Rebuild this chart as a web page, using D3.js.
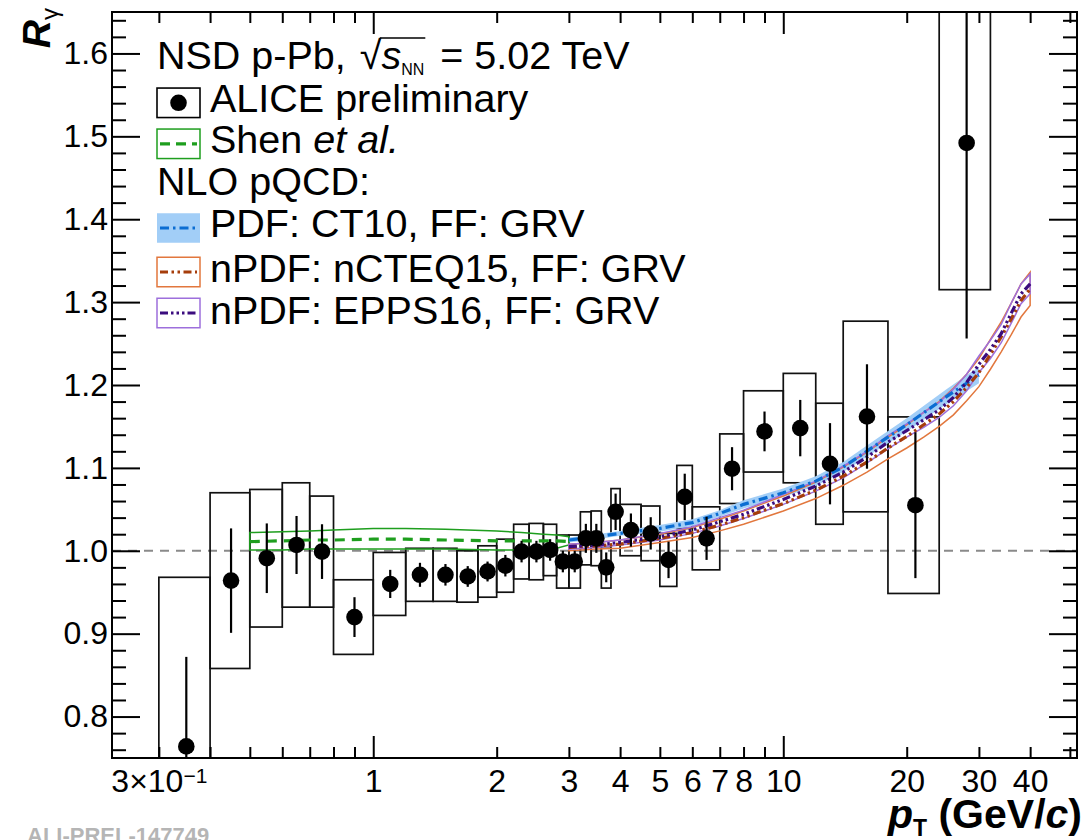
<!DOCTYPE html>
<html>
<head>
<meta charset="utf-8">
<script src="https://cdn.jsdelivr.net/npm/d3@7"></script>
<style>
  html, body { margin: 0; padding: 0; background: #fff; }
  svg { display: block; }
  text { font-family: "Liberation Sans", Arial, Helvetica, sans-serif; }
</style>
</head>
<body>
<svg id="chart" width="1092" height="840"></svg>
<script>
// ---- Measured R_gamma, NSD p-Pb at 5.02 TeV ----
const binLow   = [0.3, 0.4, 0.5, 0.6, 0.7, 0.8, 1.0, 1.2, 1.4, 1.6, 1.8, 2.0, 2.2, 2.4, 2.6, 2.8, 3.0, 3.2, 3.4, 3.6, 3.8, 4.0, 4.5, 5.0, 5.5, 6, 7, 8, 10, 12, 14, 18, 24];
const binHigh  = [0.4, 0.5, 0.6, 0.7, 0.8, 1.0, 1.2, 1.4, 1.6, 1.8, 2.0, 2.2, 2.4, 2.6, 2.8, 3.0, 3.2, 3.4, 3.6, 3.8, 4.0, 4.5, 5.0, 5.5, 6.0, 7, 8, 10, 12, 14, 18, 24, 32];
const ptCenter = [0.35, 0.45, 0.55, 0.65, 0.75, 0.9, 1.1, 1.3, 1.5, 1.7, 1.9, 2.1, 2.3, 2.5, 2.7, 2.9, 3.1, 3.3, 3.5, 3.7, 3.9, 4.25, 4.75, 5.25, 5.75, 6.5, 7.5, 9, 11, 13, 16, 21, 28];
const rGamma   = [0.764, 0.964, 0.991, 1.007, 0.999, 0.920, 0.960, 0.971, 0.971, 0.969, 0.975, 0.982, 0.999, 0.999, 1.001, 0.987, 0.987, 1.015, 1.015, 0.980, 1.047, 1.025, 1.021, 0.989, 1.065, 1.015, 1.099, 1.144, 1.148, 1.105, 1.162, 1.055, 1.492];
const statErr  = [0.108, 0.063, 0.042, 0.035, 0.033, 0.024, 0.017, 0.0145, 0.013, 0.0125, 0.012, 0.013, 0.013, 0.013, 0.013, 0.013, 0.013, 0.0175, 0.0175, 0.018, 0.022, 0.020, 0.0195, 0.022, 0.028, 0.026, 0.026, 0.024, 0.034, 0.049, 0.063, 0.088, 0.236];
const sysErr   = [0.204, 0.106, 0.083, 0.075, 0.067, 0.045, 0.038, 0.032, 0.032, 0.031, 0.031, 0.032, 0.033, 0.034, 0.031, 0.032, 0.032, 0.032, 0.033, 0.025, 0.028, 0.031, 0.033, 0.032, 0.038, 0.038, 0.042, 0.049, 0.066, 0.073, 0.115, 0.1065, 0.177];

// ---- Shen et al. (hydro) ----
const shenPt   = [0.5, 0.6, 0.7, 0.8, 1.0, 1.2, 1.5, 2.0, 2.3, 2.6, 2.8, 3.0];
const shenMid  = [1.011, 1.012, 1.013, 1.013, 1.014, 1.014, 1.013, 1.012, 1.012, 1.012, 1.012, 1.011];
const shenLow  = [1.001, 1.001, 1.002, 1.002, 1.002, 1.002, 1.002, 1.001, 1.001, 1.001, 1.003, 1.007];
const shenHigh = [1.022, 1.023, 1.024, 1.025, 1.027, 1.027, 1.026, 1.024, 1.022, 1.020, 1.019, 1.017];

// ---- NLO pQCD, PDF CT10 ----
const ct10Pt   = [3.0, 3.5, 4.0, 5.0, 6.0, 7.0, 8.0, 10, 12, 14, 17, 20, 25, 30];
const ct10Mid  = [1.013, 1.017, 1.021, 1.027, 1.034, 1.045, 1.056, 1.070, 1.084, 1.101, 1.129, 1.152, 1.186, 1.212];
const ct10Low  = [1.010, 1.014, 1.018, 1.023, 1.030, 1.041, 1.051, 1.065, 1.078, 1.095, 1.122, 1.144, 1.177, 1.202];
const ct10High = [1.016, 1.020, 1.024, 1.031, 1.038, 1.049, 1.061, 1.075, 1.090, 1.107, 1.136, 1.160, 1.195, 1.222];

// ---- NLO pQCD, nPDF nCTEQ15 and EPPS16 ----
const npdfPt    = [3, 3.5, 4, 5, 6, 7, 8, 10, 12, 14, 16, 18, 20, 22, 24, 26, 28, 30, 32, 34, 36, 38, 40];
const ncteqMid  = [1.004, 1.006, 1.008, 1.015, 1.022, 1.031, 1.040, 1.057, 1.073, 1.090, 1.107, 1.124, 1.138, 1.152, 1.165, 1.180, 1.197, 1.215, 1.237, 1.258, 1.280, 1.302, 1.316];
const ncteqLow  = [1.000, 1.002, 1.003, 1.010, 1.016, 1.024, 1.032, 1.048, 1.063, 1.079, 1.095, 1.111, 1.124, 1.137, 1.150, 1.164, 1.181, 1.198, 1.219, 1.240, 1.261, 1.282, 1.296];
const ncteqHigh = [1.008, 1.010, 1.013, 1.020, 1.028, 1.038, 1.048, 1.066, 1.083, 1.101, 1.119, 1.137, 1.152, 1.167, 1.180, 1.196, 1.213, 1.232, 1.255, 1.276, 1.299, 1.322, 1.336];
const eppsMid   = [1.005, 1.007, 1.010, 1.017, 1.025, 1.035, 1.044, 1.062, 1.078, 1.095, 1.113, 1.131, 1.145, 1.158, 1.170, 1.185, 1.203, 1.225, 1.243, 1.262, 1.287, 1.310, 1.322];
const eppsLow   = [1.002, 1.004, 1.007, 1.013, 1.021, 1.030, 1.039, 1.056, 1.072, 1.088, 1.106, 1.123, 1.137, 1.149, 1.161, 1.175, 1.193, 1.215, 1.232, 1.251, 1.275, 1.298, 1.310];
const eppsHigh  = [1.008, 1.010, 1.013, 1.021, 1.029, 1.040, 1.049, 1.068, 1.084, 1.102, 1.120, 1.139, 1.153, 1.167, 1.179, 1.195, 1.213, 1.235, 1.254, 1.273, 1.299, 1.322, 1.334];

// ---- Axis ticks ----
const xMajorTicks = [1, 10];
const xMinorTicks = [0.3, 0.4, 0.5, 0.6, 0.7, 0.8, 0.9, 2, 3, 4, 5, 6, 7, 8, 9, 20, 30, 40, 50];
const xTickLabels = [0.3, 1, 2, 3, 4, 5, 6, 7, 8, 10, 20, 30, 40];
const yTickLabels = [0.8, 0.9, 1.0, 1.1, 1.2, 1.3, 1.4, 1.5, 1.6];

const COL = {
  green: "#1e9e1e",
  blueLine: "#0b6dd2", blueBand: "#a2cef7",
  orangeEdge: "#e2773d", orangeLine: "#a63d0b",
  purpleEdge: "#9d6fdc", purpleLine: "#3b0c7e"
};

const svg = d3.select("#chart");
const L = 112, R = 1077, T = 12, B = 758;
const x = d3.scaleLog().domain([0.2306, 52.04]).range([L, R]);
const y = d3.scaleLinear().domain([0.75, 1.65]).range([B, T]);

svg.append("rect").attr("width", 1092).attr("height", 840).attr("fill", "#fff");

svg.append("defs").append("clipPath").attr("id", "frameClip")
  .append("rect").attr("x", L).attr("y", T).attr("width", R - L).attr("height", B - T);
const plot = svg.append("g").attr("clip-path", "url(#frameClip)");

// reference line at unity
plot.append("line")
  .attr("x1", L).attr("x2", R).attr("y1", y(1)).attr("y2", y(1))
  .attr("stroke", "#8a8a8a").attr("stroke-width", 2).attr("stroke-dasharray", "9,7");

// systematic boxes
const idx = d3.range(rGamma.length);
plot.append("g").selectAll("rect").data(idx).join("rect")
  .attr("x", i => x(binLow[i]))
  .attr("width", i => x(binHigh[i]) - x(binLow[i]))
  .attr("y", i => y(rGamma[i] + sysErr[i]))
  .attr("height", i => y(rGamma[i] - sysErr[i]) - y(rGamma[i] + sysErr[i]))
  .attr("fill", "none").attr("stroke", "#111").attr("stroke-width", 1.7);

// model curves
const pts = (pt, v) => pt.map((p, i) => ({ pt: p, v: v[i] }));
const band = (pt, lo, hi) => pt.map((p, i) => ({ pt: p, lo: lo[i], hi: hi[i] }));
const line = d3.line().x(d => x(d.pt)).y(d => y(d.v));
const area = d3.area().x(d => x(d.pt)).y0(d => y(d.lo)).y1(d => y(d.hi));

// CT10 filled band
plot.append("path").datum(band(ct10Pt, ct10Low, ct10High))
  .attr("d", area).attr("fill", COL.blueBand).attr("stroke", "none");

// band outlines
function outline(pt, lo, hi, color) {
  plot.append("path").datum(band(pt, lo, hi)).attr("d", area)
    .attr("fill", "none").attr("stroke", color).attr("stroke-width", 1.5);
}
outline(shenPt, shenLow, shenHigh, COL.green);
outline(npdfPt, ncteqLow, ncteqHigh, COL.orangeEdge);
outline(npdfPt, eppsLow, eppsHigh, COL.purpleEdge);

// central lines
plot.append("path").datum(pts(shenPt, shenMid)).attr("d", line)
  .attr("fill", "none").attr("stroke", COL.green).attr("stroke-width", 3.2).attr("stroke-dasharray", "10,7");
plot.append("path").datum(pts(ct10Pt, ct10Mid)).attr("d", line)
  .attr("fill", "none").attr("stroke", COL.blueLine).attr("stroke-width", 3.2).attr("stroke-dasharray", "9,4,2.5,4");
plot.append("path").datum(pts(npdfPt, ncteqMid)).attr("d", line)
  .attr("fill", "none").attr("stroke", COL.orangeLine).attr("stroke-width", 3.2).attr("stroke-dasharray", "8,3.5,2.5,3.5,2.5,3.5");
plot.append("path").datum(pts(npdfPt, eppsMid)).attr("d", line)
  .attr("fill", "none").attr("stroke", COL.purpleLine).attr("stroke-width", 3.2).attr("stroke-dasharray", "8,3,2.5,3,2.5,3,2.5,3");

// statistical error bars and markers
plot.append("g").selectAll("line").data(idx).join("line")
  .attr("x1", i => x(ptCenter[i])).attr("x2", i => x(ptCenter[i]))
  .attr("y1", i => y(rGamma[i] - statErr[i])).attr("y2", i => y(rGamma[i] + statErr[i]))
  .attr("stroke", "#000").attr("stroke-width", 2.2);
plot.append("g").selectAll("circle").data(idx).join("circle")
  .attr("cx", i => x(ptCenter[i])).attr("cy", i => y(rGamma[i])).attr("r", 8.3)
  .attr("fill", "#000");

// ---- axes ----
function styleTicks(g) {
  g.select(".domain").remove();
  g.selectAll(".tick line").attr("stroke", "#000").attr("stroke-width", 2);
}
svg.append("g").attr("transform", `translate(0,${B})`)
  .call(d3.axisBottom(x).tickValues(xMajorTicks).tickSize(-22).tickFormat(""))
  .call(styleTicks);
svg.append("g").attr("transform", `translate(0,${B})`)
  .call(d3.axisBottom(x).tickValues(xMinorTicks).tickSize(-11).tickFormat(""))
  .call(styleTicks);
svg.append("g").attr("transform", `translate(0,${T})`)
  .call(d3.axisTop(x).tickValues(xMajorTicks).tickSize(-22).tickFormat(""))
  .call(styleTicks);
svg.append("g").attr("transform", `translate(0,${T})`)
  .call(d3.axisTop(x).tickValues(xMinorTicks).tickSize(-11).tickFormat(""))
  .call(styleTicks);

const yMinor = d3.range(0.76, 1.6501, 0.02).filter(v => Math.abs(v * 10 - Math.round(v * 10)) > 1e-6);
svg.append("g").attr("transform", `translate(${L},0)`)
  .call(d3.axisLeft(y).tickValues(yTickLabels).tickSize(-28).tickFormat(""))
  .call(styleTicks);
svg.append("g").attr("transform", `translate(${L},0)`)
  .call(d3.axisLeft(y).tickValues(yMinor).tickSize(-14).tickFormat(""))
  .call(styleTicks);
svg.append("g").attr("transform", `translate(${R},0)`)
  .call(d3.axisRight(y).tickValues(yTickLabels).tickSize(-28).tickFormat(""))
  .call(styleTicks);
svg.append("g").attr("transform", `translate(${R},0)`)
  .call(d3.axisRight(y).tickValues(yMinor).tickSize(-14).tickFormat(""))
  .call(styleTicks);

// tick labels
const xLab = svg.append("g").attr("transform", `translate(0,${B})`)
  .call(d3.axisBottom(x).tickValues(xTickLabels).tickSize(0).tickPadding(11)
    .tickFormat(v => v === 0.3 ? "" : d3.format("d")(v)));
xLab.select(".domain").remove();
xLab.attr("font-size", 32).attr("font-family", "Liberation Sans, Arial, sans-serif");
xLab.selectAll(".tick text").attr("fill", "#000");
xLab.selectAll(".tick").filter(v => v === 0.3).select("text").each(function () {
  const t = d3.select(this);
  t.append("tspan").text("3×10");
  t.append("tspan").attr("dy", "-0.42em").attr("font-size", 21).text("−1");
});

const yLab = svg.append("g").attr("transform", `translate(${L},0)`)
  .call(d3.axisLeft(y).tickValues(yTickLabels).tickSize(0).tickPadding(4).tickFormat(d3.format(".1f")));
yLab.select(".domain").remove();
yLab.attr("font-size", 32).attr("font-family", "Liberation Sans, Arial, sans-serif");
yLab.selectAll(".tick text").attr("fill", "#000");

// frame
svg.append("rect").attr("x", L).attr("y", T).attr("width", R - L).attr("height", B - T)
  .attr("fill", "none").attr("stroke", "#000").attr("stroke-width", 2);

// axis titles
const xt = svg.append("text").attr("x", 1082).attr("y", 828).attr("text-anchor", "end")
  .attr("font-weight", "bold").attr("font-size", 41);
xt.append("tspan").attr("font-style", "italic").text("p");
xt.append("tspan").attr("dy", 8).attr("font-size", 23).text("T");
xt.append("tspan").attr("dy", -8).text("\u00a0(GeV/");
xt.append("tspan").attr("font-style", "italic").text("c");
xt.append("tspan").text(")");

const yt = svg.append("text").attr("transform", "translate(50,8) rotate(-90)")
  .attr("text-anchor", "end").attr("font-weight", "bold").attr("font-size", 39);
yt.append("tspan").attr("font-style", "italic").text("R");
yt.append("tspan").attr("dy", 8).attr("font-size", 24).attr("font-weight", "normal").text("γ");

// ---- legend ----
const FS = 39.5;
const legX = 157, symW = 43, symH = 29.5, txtX = 210;
const leg = svg.append("g");

// header line with sqrt(s_NN)
(function () {
  const base = 69;
  let cx = legX;
  function piece(str, opts) {
    const t = leg.append("text").attr("x", cx).attr("y", base + (opts.dy || 0))
      .attr("font-size", opts.size || FS).text(str);
    if (opts.italic) t.attr("font-style", "italic");
    const w = t.node().getComputedTextLength();
    cx += w;
    return { x0: cx - w, x1: cx };
  }
  piece("NSD p-Pb,\u00a0", {});
  cx += 3;
  const rad = piece("√", {});
  piece("s", { italic: true });
  const nn = piece("NN", { size: 16, dy: 6 });
  cx += 5;
  piece("\u00a0= 5.02 TeV", {});
  leg.append("line").attr("x1", rad.x1 - 1.5).attr("x2", nn.x1 + 1)
    .attr("y1", base - 31).attr("y2", base - 31).attr("stroke", "#000").attr("stroke-width", 1.6);
})();

const rows = [
  { base: 112.4, sym: 102.8, label: [["ALICE preliminary", false]], kind: "data" },
  { base: 153.3, sym: 143.8, label: [["Shen\u00a0", false], ["et al.", true]], kind: "shen" },
  { base: 195.1, sym: 0, label: [["NLO pQCD:", false]], kind: "none" },
  { base: 237.4, sym: 228, label: [["PDF: CT10, FF: GRV", false]], kind: "ct10" },
  { base: 282.1, sym: 272, label: [["nPDF: nCTEQ15, FF: GRV", false]], kind: "ncteq" },
  { base: 324.1, sym: 313, label: [["nPDF: EPPS16, FF: GRV", false]], kind: "epps" }
];
rows.forEach(r => {
  const t = leg.append("text").attr("x", r.kind === "none" ? legX : txtX).attr("y", r.base).attr("font-size", FS);
  r.label.forEach(([s, it]) => { const sp = t.append("tspan").text(s); if (it) sp.attr("font-style", "italic"); });
  const cy = r.sym;
  const bx = legX, by = cy - symH / 2;
  const mid = (color, dash) => leg.append("line").attr("x1", bx + 3).attr("x2", bx + symW - 3)
    .attr("y1", cy).attr("y2", cy).attr("stroke", color).attr("stroke-width", 3.2).attr("stroke-dasharray", dash);
  if (r.kind === "data") {
    leg.append("rect").attr("x", bx).attr("y", by).attr("width", symW).attr("height", symH)
      .attr("fill", "none").attr("stroke", "#000").attr("stroke-width", 1.6);
    leg.append("circle").attr("cx", bx + symW / 2).attr("cy", cy).attr("r", 8.3).attr("fill", "#000");
  } else if (r.kind === "shen") {
    leg.append("rect").attr("x", bx).attr("y", by).attr("width", symW).attr("height", symH)
      .attr("fill", "none").attr("stroke", COL.green).attr("stroke-width", 1.5);
    mid(COL.green, "10,6");
  } else if (r.kind === "ct10") {
    leg.append("rect").attr("x", bx).attr("y", by).attr("width", symW).attr("height", symH)
      .attr("fill", COL.blueBand);
    mid(COL.blueLine, "9,4,2.5,4");
  } else if (r.kind === "ncteq") {
    leg.append("rect").attr("x", bx).attr("y", by).attr("width", symW).attr("height", symH)
      .attr("fill", "none").attr("stroke", COL.orangeEdge).attr("stroke-width", 1.5);
    mid(COL.orangeLine, "8,3.5,2.5,3.5,2.5,3.5");
  } else if (r.kind === "epps") {
    leg.append("rect").attr("x", bx).attr("y", by).attr("width", symW).attr("height", symH)
      .attr("fill", "none").attr("stroke", COL.purpleEdge).attr("stroke-width", 1.5);
    mid(COL.purpleLine, "8,3,2.5,3,2.5,3,2.5,3");
  }
});

// preliminary figure tag
svg.append("text").attr("x", 27).attr("y", 843)
  .attr("font-family", "Liberation Mono, Courier New, monospace").attr("font-weight", "bold")
  .attr("font-size", 22).attr("fill", "#b5b5b5").text("ALI-PREL-147749");
</script>
</body>
</html>
